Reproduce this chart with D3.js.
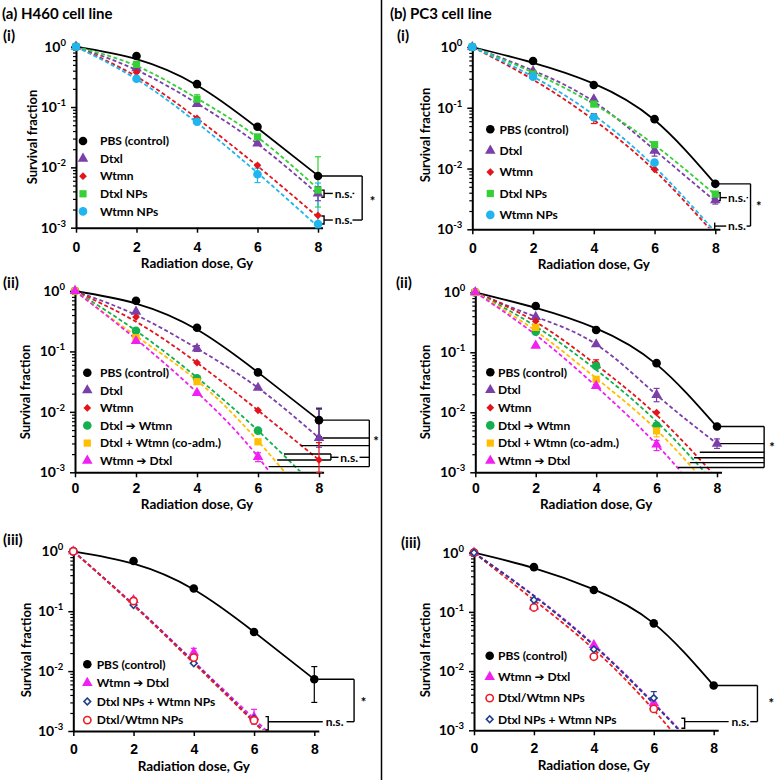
<!DOCTYPE html>
<html>
<head>
<meta charset="utf-8">
<script src="https://cdn.jsdelivr.net/npm/d3@7"></script>
<style>
  body { margin: 0; background: #fff; }
  svg { display: block; font-family: Lato, "Open Sans", "DejaVu Sans", sans-serif; font-weight: bold; }
</style>
</head>
<body>
<svg id="chart" width="776" height="780"></svg>
<script>
// doses where colonies were counted, and tick values
const doses = [0, 2, 4, 6, 8];
const xTicks = [0, 2, 4, 6, 8];
const yTicks = [1, 0.1, 0.01, 0.001];
const yExp = ["0", "-1", "-2", "-3"];

// (a)(i) H460, free drugs vs NPs
const a1Names = ["PBS (control)", "Dtxl", "Wtmn", "Dtxl NPs", "Wtmn NPs"];
const a1Points = [
  [1, 0.70, 0.24, 0.047, 0.0072],
  [1, 0.44, 0.112, 0.025, 0.0037],
  [1, 0.376, 0.065, 0.0108, 0.0016],
  [1, 0.51, 0.135, 0.032, 0.0042],
  [1, 0.295, 0.057, 0.0077, 0.00115]
];
const a1Fits = [
  [1, 0.62, 0.23, 0.045, 0.0073],
  [1, 0.41, 0.115, 0.0245, 0.0036],
  [1, 0.32, 0.065, 0.0105, 0.0015],
  [1, 0.48, 0.139, 0.0315, 0.0044],
  [1, 0.29, 0.055, 0.0081, 0.00104]
];
// [series, dose, low, high]
const a1Err = [[3, 4, 0.115, 0.16], [3, 8, 0.0022, 0.015], [4, 6, 0.0056, 0.0097], [4, 8, 0.001, 0.0055], [1, 8, 0.0028, 0.0048]];

// (b)(i) PC3
const b1Names = ["PBS (control)", "Dtxl", "Wtmn", "Dtxl NPs", "Wtmn NPs"];
const b1Points = [
  [1, 0.59, 0.237, 0.065, 0.0056],
  [1, 0.40, 0.138, 0.0197, 0.0030],
  [1, 0.36, 0.070, 0.0097, null],
  [1, 0.36, 0.115, 0.0247, 0.0038],
  [1, 0.325, 0.070, 0.0125, null]
];
const b1Fits = [
  [1, 0.55, 0.25, 0.063, 0.0056],
  [1, 0.41, 0.126, 0.0202, 0.0029],
  [1, 0.29, 0.063, 0.0093, 0.0008],
  [1, 0.38, 0.115, 0.0244, 0.0037],
  [1, 0.325, 0.076, 0.0107, 0.0009]
];
const b1Err = [[2, 4, 0.055, 0.08], [1, 6, 0.016, 0.023], [1, 8, 0.0026, 0.0034]];

// (a)(ii) H460, sequence of free drugs
const a2Names = ["PBS (control)", "Dtxl", "Wtmn", "Dtxl ➔ Wtmn", "Dtxl + Wtmn (co-adm.)", "Wtmn ➔ Dtxl"];
const a2Points = [
  [1, 0.69, 0.247, 0.045, 0.0073],
  [1, 0.455, 0.112, 0.025, 0.0037],
  [1, 0.37, 0.065, 0.0106, 0.0016],
  [1, 0.22, 0.036, 0.0049, null],
  [1, 0.169, 0.0316, 0.0032, null],
  [1, 0.149, 0.0206, 0.0018, null]
];
const a2Fits = [
  [1, 0.62, 0.23, 0.045, 0.0073],
  [1, 0.40, 0.112, 0.025, 0.0037],
  [1, 0.31, 0.065, 0.0106, 0.0016],
  [1, 0.22, 0.037, 0.0049, 0.0005],
  [1, 0.18, 0.033, 0.0033, 0.0002],
  [1, 0.16, 0.021, 0.0018, 0.00006]
];
const a2Err = [[0, 8, 0.0039, 0.0115], [1, 8, 0.0026, 0.011], [2, 8, 0.001, 0.0031], [1, 4, 0.10, 0.125], [5, 6, 0.0015, 0.0021]];

// (b)(ii) PC3
const b2Names = ["PBS (control)", "Dtxl", "Wtmn", "Dtxl ➔ Wtmn", "Dtxl + Wtmn (co-adm.)", "Wtmn ➔ Dtxl"];
const b2Points = [
  [1, 0.59, 0.236, 0.066, 0.0058],
  [1, 0.39, 0.136, 0.0195, 0.0030],
  [1, 0.33, 0.066, 0.0099, null],
  [1, 0.22, 0.059, 0.0060, null],
  [1, 0.26, 0.0355, 0.0049, null],
  [1, 0.129, 0.0275, 0.0029, null]
];
const b2Fits = [
  [1, 0.55, 0.25, 0.063, 0.0057],
  [1, 0.39, 0.136, 0.0195, 0.003],
  [1, 0.32, 0.062, 0.009, 0.0008],
  [1, 0.27, 0.051, 0.007, 0.0006],
  [1, 0.227, 0.037, 0.0051, 0.0004],
  [1, 0.195, 0.027, 0.0029, 0.0002]
];
const b2Err = [[1, 6, 0.015, 0.025], [1, 8, 0.0025, 0.0036], [4, 6, 0.0039, 0.0058], [5, 6, 0.0023, 0.0034], [2, 4, 0.058, 0.075]];

// (a)(iii) H460, NP formulations
const a3Names = ["PBS (control)", "Wtmn ➔ Dtxl", "Dtxl NPs + Wtmn NPs", "Dtxl/Wtmn NPs"];
const a3Points = [
  [1, 0.69, 0.24, 0.045, 0.0073],
  [1, 0.154, 0.0203, 0.0017, null],
  [1, 0.127, 0.0135, 0.0016, null],
  [1, 0.148, 0.0168, 0.0015, null]
];
const a3Fits = [
  [1, 0.62, 0.23, 0.045, 0.0073],
  [1, 0.13, 0.0145, 0.0016, 0.00017],
  [1, 0.127, 0.014, 0.00145, 0.00015],
  [1, 0.125, 0.0135, 0.0014, 0.00014]
];
const a3Err = [[0, 8, 0.0030, 0.0119], [1, 4, 0.016, 0.024], [1, 6, 0.0013, 0.0023]];

// (b)(iii) PC3
const b3Names = ["PBS (control)", "Wtmn ➔ Dtxl", "Dtxl/Wtmn NPs", "Dtxl NPs + Wtmn NPs"];
const b3Points = [
  [1, 0.57, 0.234, 0.064, 0.0057],
  [1, 0.123, 0.0276, 0.0029, null],
  [1, 0.119, 0.0175, 0.0023, null],
  [1, 0.159, 0.0233, 0.0035, null]
];
const b3Fits = [
  [1, 0.55, 0.24, 0.064, 0.0057],
  [1, 0.19, 0.028, 0.0029, 0.00025],
  [1, 0.159, 0.0234, 0.0022, 0.00013],
  [1, 0.185, 0.027, 0.0028, 0.00024]
];
const b3Err = [[3, 6, 0.0027, 0.0045]];

// look of each treatment
const styles = {
  "PBS (control)": { c: "#000000", sym: "circle" },
  "Dtxl": { c: "#7a3fa8", sym: "triangle" },
  "Wtmn": { c: "#e3141b", sym: "diamond" },
  "Dtxl NPs": { c: "#35d035", sym: "square" },
  "Wtmn NPs": { c: "#1fb5ee", sym: "circle" },
  "Dtxl ➔ Wtmn": { c: "#14b050", sym: "circle" },
  "Dtxl + Wtmn (co-adm.)": { c: "#ffbe00", sym: "square" },
  "Wtmn ➔ Dtxl": { c: "#f020f0", sym: "triangle" },
  "Dtxl NPs + Wtmn NPs": { c: "#1d3e8c", sym: "diamond", open: true },
  "Dtxl/Wtmn NPs": { c: "#ee1c24", sym: "circle", open: true }
};

const svg = d3.select("#chart");

// panel titles + divider
svg.append("text").attr("x", 2).attr("y", 19).attr("font-size", 15).text("(a) H460 cell line");
svg.append("text").attr("x", 390).attr("y", 19).attr("font-size", 15).text("(b) PC3 cell line");
svg.append("line").attr("x1", 381.5).attr("x2", 381.5).attr("y1", 0).attr("y2", 780)
  .attr("stroke", "#000").attr("stroke-width", 1.5);

// diamonds are drawn as squares turned by 45 degrees (compact, like the original)
function symbolPath(st) {
  const types = { circle: d3.symbolCircle, triangle: d3.symbolTriangle, diamond: d3.symbolSquare, square: d3.symbolSquare };
  const sizes = st.open
    ? { circle: 42, diamond: 22 }
    : { circle: 58, triangle: 48, diamond: 30, square: 52 };
  return d3.symbol(types[st.sym], sizes[st.sym])();
}

function marker(g, name, cx, cy) {
  const st = styles[name];
  g.append("path")
    .attr("d", symbolPath(st))
    .attr("transform", `translate(${cx},${cy})` + (st.sym === "diamond" ? " rotate(45)" : ""))
    .attr("fill", st.open ? "#fff" : st.c)
    .attr("stroke", st.open ? st.c : "none")
    .attr("stroke-width", st.open ? 1.6 : 0);
}

// significance brackets, in dose / survival units
const annA1 = [
  ["h", 8.11, 9.46, 0.0072], ["v", 9.46, 0.0072, 0.00134],
  ["br", 8.11, 8.2, 0.0042, 0.0032], ["h", 8.2, 8.49, 0.0037], ["t", 8.55, 0.0037, "n.s."], ["h", 9.14, 9.2, 0.0037],
  ["br", 8.11, 8.2, 0.00156, 0.00115], ["h", 8.2, 8.49, 0.00134], ["t", 8.55, 0.00134, "n.s."], ["h", 9.14, 9.46, 0.00134],
  ["t", 9.8, 0.0027, "*"]
];
const annB1 = [
  ["h", 8.09, 9.16, 0.0056], ["v", 9.16, 0.0056, 0.00113],
  ["h", 9.03, 9.16, 0.00113], ["t", 8.42, 0.00113, "n.s."], ["h", 7.98, 8.36, 0.00113], ["v", 7.98, 0.00129, 0.001],
  ["br", 8.09, 8.16, 0.0040, 0.00296], ["h", 8.16, 8.38, 0.00332], ["t", 8.42, 0.00332, "n.s."], ["h", 9.03, 9.08, 0.00332],
  ["t", 9.43, 0.00242, "*"]
];
const annA2 = [
  ["h", 8.11, 9.65, 0.0073], ["h", 8.11, 9.65, 0.0037], ["h", 7.40, 9.65, 0.00276],
  ["h", 6.85, 8.39, 0.00201], ["h", 6.63, 8.39, 0.0016], ["v", 8.39, 0.00201, 0.0016],
  ["h", 6.35, 9.65, 0.00124], ["v", 9.65, 0.0073, 0.00124],
  ["h", 8.39, 8.64, 0.00177], ["t", 8.7, 0.00177, "n.s."], ["h", 9.33, 9.65, 0.00177],
  ["t", 9.87, 0.00321, "*"]
];
const annB2 = [
  ["h", 8.09, 9.56, 0.0058], ["h", 8.09, 9.56, 0.003], ["h", 7.43, 9.56, 0.00216],
  ["h", 7.24, 9.56, 0.00175], ["h", 7.10, 9.56, 0.00145], ["h", 6.71, 9.56, 0.0012],
  ["v", 9.56, 0.0058, 0.0012], ["t", 9.82, 0.00261, "*"]
];
const annA3 = [
  ["h", 8.13, 9.32, 0.0073], ["v", 9.32, 0.0073, 0.00143], ["h", 9.07, 9.32, 0.00143],
  ["t", 8.38, 0.00143, "n.s."], ["h", 6.47, 8.28, 0.00143], ["br", 6.38, 6.47, 0.00174, 0.00104],
  ["t", 9.63, 0.00298, "*"]
];
const annB3 = [
  ["h", 8.09, 9.46, 0.0057], ["v", 9.46, 0.0057, 0.0014], ["h", 9.22, 9.46, 0.0014],
  ["t", 8.59, 0.0014, "n.s."], ["h", 7.03, 8.5, 0.0014], ["br", 6.92, 7.03, 0.0016, 0.00108],
  ["t", 9.92, 0.00286, "*"]
];

const panels = [
  { id: "a1", names: a1Names, pts: a1Points, fits: a1Fits, err: a1Err, ann: annA1,
    x0: 76, x8: 318, yTop: 46.7, yBot: 227.7, tick: 24, lab: 40, ylx: -44, yly: 137,
    lx: 83, tx: 100, ly: 141, ldy: 17.6, tag: "(i)", tagX: 3, tagY: 41 },
  { id: "b1", names: b1Names, pts: b1Points, fits: b1Fits, err: b1Err, ann: annB1,
    x0: 472.3, x8: 715.3, yTop: 47, yBot: 229.3, tick: 24, lab: 40, ylx: -47, yly: 135,
    lx: 490.3, tx: 499.5, ly: 129.3, ldy: 21.4, tag: "(i)", tagX: 397, tagY: 41 },
  { id: "a2", names: a2Names, pts: a2Points, fits: a2Fits, err: a2Err, ann: annA2,
    x0: 75, x8: 319, yTop: 291, yBot: 472.3, tick: 21, lab: 37, ylx: -50, yly: 392,
    lx: 87.3, tx: 100, ly: 372.7, ldy: 17.6, tag: "(ii)", tagX: 3, tagY: 288 },
  { id: "b2", names: b2Names, pts: b2Points, fits: b2Fits, err: b2Err, ann: annB2,
    x0: 475.3, x8: 717, yTop: 292.3, yBot: 472.3, tick: 21, lab: 37, ylx: -50, yly: 392,
    lx: 490.3, tx: 498, ly: 372.3, ldy: 17.7, tag: "(ii)", tagX: 396, tagY: 288 },
  { id: "a3", names: a3Names, pts: a3Points, fits: a3Fits, err: a3Err, ann: annA3,
    x0: 73.3, x8: 314.3, yTop: 551.3, yBot: 731, tick: 23, lab: 40, ylx: -47, yly: 650,
    lx: 87.3, tx: 96.7, ly: 664.3, ldy: 18.6, tag: "(iii)", tagX: 3, tagY: 545 },
  { id: "b3", names: b3Names, pts: b3Points, fits: b3Fits, err: b3Err, ann: annB3,
    x0: 474, x8: 713.7, yTop: 552.7, yBot: 730.3, tick: 23, lab: 40, ylx: -49, yly: 650,
    lx: 489.7, tx: 498, ly: 655.7, ldy: 21.2, tag: "(iii)", tagX: 401, tagY: 548 }
];

function drawPanel(p) {
  const xEnd = 8.15;
  const x = d3.scaleLinear().domain([0, xEnd]).range([p.x0, p.x0 + (p.x8 - p.x0) * xEnd / 8]);
  const y = d3.scaleLog().domain([0.001, 1]).range([p.yBot, p.yTop]);
  const g = svg.append("g");

  g.append("text").attr("x", p.tagX).attr("y", p.tagY).attr("font-size", 15).text(p.tag);

  const clipId = "clip-" + p.id;
  g.append("clipPath").attr("id", clipId).append("rect")
    .attr("x", p.x0).attr("y", p.yTop - 10)
    .attr("width", x(8.1) - p.x0).attr("height", p.yBot - p.yTop + 9);

  // fitted survival curves
  const line = d3.line().x(d => x(d[0])).y(d => y(d[1])).curve(d3.curveNatural);
  p.fits.forEach((f, i) => {
    g.append("path")
      .attr("clip-path", `url(#${clipId})`)
      .attr("d", line(doses.map((d, j) => [d, f[j]])))
      .attr("fill", "none")
      .attr("stroke", styles[p.names[i]].c)
      .attr("stroke-width", 1.8)
      .attr("stroke-dasharray", i === 0 ? null : "4,2.5");
  });

  // brackets
  const ann = g.append("g").attr("stroke", "#000").attr("stroke-width", 1.4).attr("fill", "none");
  p.ann.forEach(a => {
    if (a[0] === "h") {
      ann.append("line").attr("x1", x(a[1])).attr("x2", x(a[2])).attr("y1", y(a[3])).attr("y2", y(a[3]));
    } else if (a[0] === "v") {
      ann.append("line").attr("x1", x(a[1])).attr("x2", x(a[1])).attr("y1", y(a[2])).attr("y2", y(a[3]));
    } else if (a[0] === "br") {
      ann.append("path").attr("d", `M${x(a[1])},${y(a[3])}H${x(a[2])}V${y(a[4])}H${x(a[1])}`);
    } else {
      g.append("text")
        .attr("x", x(a[1])).attr("y", y(a[2]))
        .attr("dy", "0.35em")
        .attr("text-anchor", a[3] === "*" ? "middle" : "start")
        .attr("font-size", a[3] === "*" ? 13 : 12)
        .text(a[3]);
    }
  });

  // axes
  const xAxis = g.append("g").attr("transform", `translate(0,${p.yBot})`)
    .call(d3.axisBottom(x).tickValues(xTicks).tickSize(5).tickSizeOuter(0).tickFormat(d3.format("d")));
  xAxis.select(".domain").attr("stroke-width", 2);
  xAxis.selectAll(".tick line").attr("stroke-width", 1.5);
  xAxis.selectAll(".tick text").attr("y", p.tick).attr("dy", 0)
    .attr("font-size", 14).attr("font-family", null).attr("font-weight", "bold");

  const minor = y.ticks().filter(v => !yTicks.includes(v));
  g.append("g").attr("transform", `translate(${p.x0},0)`)
    .call(d3.axisLeft(y).tickValues(minor).tickSize(3).tickSizeOuter(0).tickFormat(""))
    .call(s => s.select(".domain").remove())
    .selectAll(".tick line").attr("stroke-width", 1.2);
  const yAxis = g.append("g").attr("transform", `translate(${p.x0},0)`)
    .call(d3.axisLeft(y).tickValues(yTicks).tickSize(5).tickSizeOuter(0).tickFormat(""));
  yAxis.select(".domain").attr("stroke-width", 2);
  yAxis.selectAll(".tick line").attr("stroke-width", 1.5);

  yTicks.forEach((v, i) => {
    const t = g.append("text").attr("x", p.x0 - 10).attr("y", y(v) + 5)
      .attr("text-anchor", "end").attr("font-size", 14);
    t.append("tspan").text("10");
    t.append("tspan").attr("dy", -6).attr("font-size", 9.5).text(yExp[i]);
  });

  g.append("text")
    .attr("transform", `translate(${p.x0 + p.ylx},${p.yly}) rotate(-90)`)
    .attr("text-anchor", "middle").attr("dy", "0.35em").attr("font-size", 13)
    .text("Survival fraction");
  g.append("text")
    .attr("x", x(4)).attr("y", p.yBot + p.lab)
    .attr("text-anchor", "middle").attr("font-size", 13.5)
    .text("Radiation dose, Gy");

  // error bars then points
  p.err.forEach(e => {
    const c = styles[p.names[e[0]]].c;
    const cx = x(e[1]);
    const eb = g.append("g").attr("stroke", c).attr("stroke-width", 1.2);
    eb.append("line").attr("x1", cx).attr("x2", cx).attr("y1", y(e[2])).attr("y2", y(e[3]));
    eb.append("line").attr("x1", cx - 3).attr("x2", cx + 3).attr("y1", y(e[2])).attr("y2", y(e[2]));
    eb.append("line").attr("x1", cx - 3).attr("x2", cx + 3).attr("y1", y(e[3])).attr("y2", y(e[3]));
  });
  p.pts.forEach((row, i) => {
    row.forEach((v, j) => {
      if (v == null || v < 0.001) return;
      marker(g, p.names[i], x(doses[j]), y(v));
    });
  });

  // legend
  p.names.forEach((n, i) => {
    const cy = p.ly + i * p.ldy;
    marker(g, n, p.lx, cy);
    g.append("text").attr("x", p.tx).attr("y", cy).attr("dy", "0.35em")
      .attr("font-size", 12).text(n);
  });
}

panels.forEach(drawPanel);
</script>
</body>
</html>
